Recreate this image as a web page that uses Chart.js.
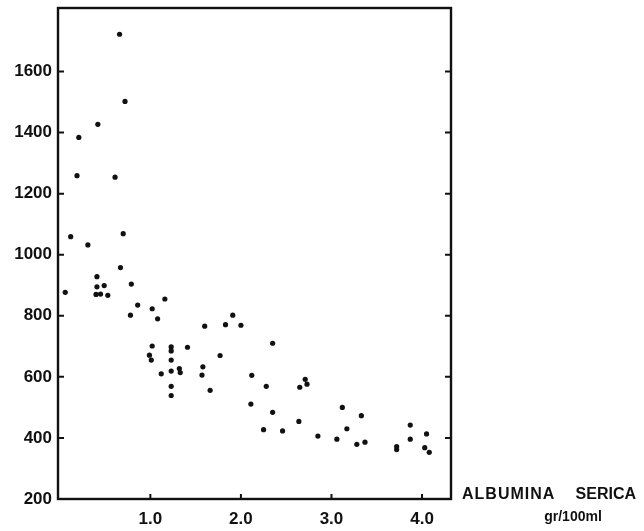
<!DOCTYPE html>
<html>
<head>
<meta charset="utf-8">
<script src="https://cdn.jsdelivr.net/npm/chart.js@4/dist/chart.umd.min.js"></script>
<style>
  html, body { margin: 0; padding: 0; background: #fff; }
  #wrap { width: 644px; height: 531px; }
</style>
</head>
<body>
<div id="wrap"><canvas id="albChart" width="644" height="531"></canvas></div>
<script>
// =================================================================
// DATI
// =================================================================
// albumina serica, gr/100ml
const albumina = [
  0.66, 0.72, 0.42, 0.21, 0.19, 0.61, 0.70, 0.12, 0.31, 0.67,
  0.41, 0.79, 0.41, 0.49, 0.06, 0.40, 0.45, 0.53, 1.16, 0.86,
  1.02, 0.78, 1.08, 1.02, 0.99, 1.01, 1.23, 1.23, 1.23, 1.23,
  1.23, 1.23, 1.41, 1.32, 1.33, 1.12, 1.58, 1.57, 1.66, 1.60,
  1.83, 1.91, 2.00, 1.77, 2.35, 2.12, 2.28, 2.11, 2.71, 2.73,
  2.65, 2.35, 2.64, 2.25, 2.46, 2.85, 3.06, 3.12, 3.33, 3.17,
  3.28, 3.37, 3.72, 3.72, 3.87, 3.87, 4.05, 4.03, 4.08
];
// valori asse y
const valori = [
  1722, 1502, 1427, 1384, 1259, 1254, 1069, 1059, 1032, 958,
  928, 904, 895, 899, 877, 870, 871, 867, 855, 835,
  823, 802, 790, 701, 671, 655, 698, 685, 655, 619,
  569, 539, 697, 627, 614, 610, 633, 606, 556, 766,
  771, 802, 769, 670, 710, 605, 569, 511, 592, 576,
  566, 484, 454, 427, 423, 406, 396, 500, 473, 430,
  379, 386, 372, 362, 442, 396, 413, 368, 353
];
const xTickValues = [1, 2, 3, 4];
const xTickLabels = ['1.0', '2.0', '3.0', '4.0'];
const yTickValues = [200, 400, 600, 800, 1000, 1200, 1400, 1600];
const yTickLabels = ['200', '400', '600', '800', '1000', '1200', '1400', '1600'];

const punti = albumina.map((x, i) => ({ x: x, y: valori[i] }));

// =================================================================
// PLUGIN: cornice, tacche interne, titolo asse
// =================================================================
const cornicePlugin = {
  id: 'cornice',
  afterDraw(chart) {
    const ctx = chart.ctx;
    const a = chart.chartArea;
    const xs = chart.scales.x;
    const ys = chart.scales.y;
    ctx.save();
    ctx.strokeStyle = '#111';
    ctx.lineWidth = 2.4;
    ctx.strokeRect(a.left, a.top, a.right - a.left, a.bottom - a.top);

    ctx.lineWidth = 2;
    ctx.beginPath();
    xTickValues.forEach(v => {
      const px = xs.getPixelForValue(v);
      ctx.moveTo(px, a.bottom);
      ctx.lineTo(px, a.bottom - 5);
    });
    yTickValues.forEach(v => {
      const py = ys.getPixelForValue(v);
      ctx.moveTo(a.left, py);
      ctx.lineTo(a.left + 6, py);
      if (v >= 400) {
        ctx.moveTo(a.right, py);
        ctx.lineTo(a.right - 6, py);
      }
    });
    ctx.stroke();

    // titolo asse x, a destra
    ctx.fillStyle = '#111';
    ctx.textBaseline = 'middle';
    ctx.font = 'bold 16px "Liberation Sans", Arial, sans-serif';
    ctx.textAlign = 'left';
    ctx.letterSpacing = '1px';
    ctx.fillText('ALBUMINA', 462, 495);
    ctx.textAlign = 'right';
    ctx.letterSpacing = '0px';
    ctx.fillText('SERICA', 636, 495);
    ctx.textAlign = 'center';
    ctx.font = 'bold 14px "Liberation Sans", Arial, sans-serif';
    ctx.fillText('gr/100ml', 573, 517);
    ctx.restore();
  }
};

// =================================================================
// GRAFICO
// =================================================================
const tickFont = { family: '"Liberation Sans", Arial, sans-serif', size: 17, weight: 'bold' };

new Chart(document.getElementById('albChart').getContext('2d'), {
  type: 'scatter',
  data: {
    datasets: [{
      data: punti,
      backgroundColor: '#111',
      borderColor: '#111',
      pointRadius: 2.6,
      pointHoverRadius: 2.6,
      borderWidth: 0
    }]
  },
  options: {
    responsive: false,
    animation: false,
    devicePixelRatio: 1,
    layout: { padding: { top: 8, right: 193, left: 0, bottom: 0 } },
    plugins: {
      legend: { display: false },
      tooltip: { enabled: false }
    },
    scales: {
      x: {
        type: 'linear',
        min: -0.02,
        max: 4.32,
        grid: { display: false, drawTicks: false },
        border: { display: false },
        afterBuildTicks: s => { s.ticks = xTickValues.map(v => ({ value: v })); },
        afterFit: s => { s.height = 32; s.paddingLeft = 0; s.paddingRight = 0; },
        ticks: {
          color: '#111',
          font: tickFont,
          padding: 10,
          maxRotation: 0,
          callback: (v) => xTickLabels[xTickValues.indexOf(v)]
        }
      },
      y: {
        type: 'linear',
        min: 200,
        max: 1808,
        grid: { display: false, drawTicks: false },
        border: { display: false },
        afterBuildTicks: s => { s.ticks = yTickValues.map(v => ({ value: v })); },
        afterFit: s => { s.width = 58; s.paddingTop = 0; s.paddingBottom = 0; },
        ticks: {
          color: '#111',
          font: tickFont,
          padding: 6,
          callback: (v) => yTickLabels[yTickValues.indexOf(v)]
        }
      }
    }
  },
  plugins: [cornicePlugin]
});
</script>
</body>
</html>
